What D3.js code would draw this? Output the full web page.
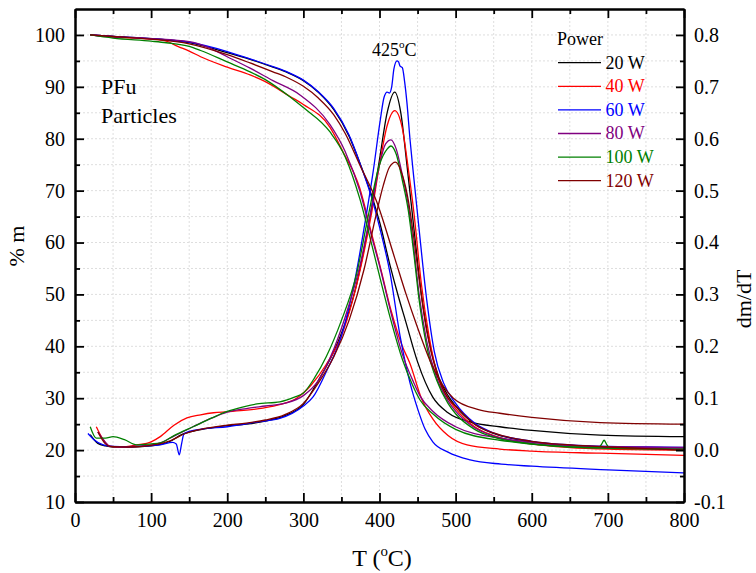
<!DOCTYPE html>
<html><head><meta charset="utf-8">
<script src="https://cdn.jsdelivr.net/npm/d3@7"></script>
<style>body{margin:0;background:#fff}svg{display:block}</style>
</head><body><svg id="c" width="756" height="573"></svg>
<script>
// ---------- DATA ----------
const seriesNames = ["20 W","40 W","60 W","80 W","100 W","120 W"];
const seriesColors = ["#000000","#ff0000","#0000ff","#800080","#008000","#800000"];

const xTicks = [0,100,200,300,400,500,600,700,800];
const yLeftTicks = [10,20,30,40,50,60,70,80,90,100];
const yRightTicks = [-0.1,0,0.1,0.2,0.3,0.4,0.5,0.6,0.7,0.8];

// 20 W
const tga20T = [20,50,100,150,200,230,260,280,300,320,340,360,375,392,400,414,425,434,450,470,490,520,558,600,690,800];
const tga20M = [100,99.7,99.3,98.5,96.6,95.3,93.8,92.7,91.2,88.9,85.6,80.5,75,68,64,55.5,49.5,45,37,30.2,27.2,25.4,24.5,23.8,22.9,22.6];
const dtg20T = [20,30,40,50,75,100,125,140,160,180,200,225,250,275,300,320,340,355,370,380,390,400,410,420,428,436,445,455,465,478,490,500,525,550,600,650,700,750,800];
const dtg20D = [0.030,0.013,0.008,0.006,0.006,0.008,0.017,0.030,0.038,0.043,0.047,0.050,0.056,0.066,0.088,0.135,0.19,0.245,0.32,0.39,0.47,0.56,0.65,0.69,0.65,0.55,0.43,0.30,0.21,0.14,0.105,0.085,0.05,0.032,0.016,0.009,0.005,0.003,0.002];

// 40 W
const tga40T = [20,50,100,120,135,150,165,200,230,250,283,300,335,352,374,390,401,415,430,440,455,470,490,515,558,600,690,800];
const tga40M = [100,99.6,99.2,98.8,97.8,96.9,95.8,93.8,92.3,91,88.1,86.6,82.2,77.5,70.5,61.5,55.3,47,40,36.7,30,26,22.8,21,20.2,19.8,19.4,19.0];
const dtg40T = [28,35,46,60,81,100,112,130,147,165,182,200,225,247,270,291,310,330,350,365,378,390,400,410,420,430,438,445,455,465,477,490,500,525,550,600,650,700,800];
const dtg40D = [0.045,0.025,0.007,0.006,0.010,0.016,0.026,0.048,0.062,0.068,0.072,0.074,0.077,0.081,0.088,0.100,0.125,0.165,0.22,0.29,0.37,0.46,0.55,0.625,0.654,0.62,0.54,0.46,0.32,0.22,0.14,0.10,0.08,0.045,0.028,0.012,0.005,0.002,0.0];

// 60 W
const tga60T = [20,50,100,150,200,230,260,280,300,320,340,360,375,392,400,414,427,440,450,460,470,490,519,560,600,700,800];
const tga60M = [100,99.7,99.3,98.6,96.8,95.4,93.9,92.8,91.3,89.0,85.8,80.7,75,67.5,63,54,42,33,28,24,21.6,19.6,18.1,17.3,16.9,16.2,15.6];
const dtg60T = [17,25,37,50,68,90,112,128,133,137,140,143,150,168,200,243,269,300,313,331,350,368,380,392,401,406,410,413,416,419,423,425,427,430,433,436,440,444,451,462,472,484,500,525,550,600,650,700,750,800];
const dtg60D = [0.032,0.020,0.010,0.007,0.0066,0.008,0.010,0.015,0.012,-0.009,0.012,0.031,0.036,0.041,0.045,0.055,0.061,0.085,0.103,0.154,0.22,0.33,0.43,0.54,0.636,0.68,0.69,0.688,0.70,0.735,0.75,0.748,0.74,0.737,0.71,0.67,0.60,0.54,0.44,0.29,0.19,0.13,0.09,0.052,0.033,0.017,0.01,0.007,0.006,0.005];

// 80 W
const tga80T = [20,50,100,150,175,200,230,260,296,335,355,374,390,401,415,430,445,453,470,500,558,690,800];
const tga80M = [100,99.7,99.3,98.7,97.6,95.8,93.6,91.2,88.4,82.7,77.5,70,61,55,46.5,38.5,33,30.5,27.5,24.5,22.3,20.7,20.5];
const dtg80T = [30,40,46,70,100,112,130,155,180,200,225,250,275,300,320,340,360,375,390,400,408,415,422,430,438,445,452,462,475,490,500,525,550,600,650,700,750,800];
const dtg80D = [0.035,0.015,0.007,0.006,0.010,0.014,0.027,0.045,0.062,0.073,0.080,0.085,0.09,0.105,0.135,0.195,0.28,0.36,0.47,0.55,0.59,0.598,0.58,0.53,0.47,0.39,0.30,0.21,0.14,0.095,0.075,0.043,0.027,0.013,0.008,0.006,0.005,0.004];

// 100 W
const tga100T = [20,50,100,120,150,165,200,230,250,283,300,335,355,374,390,401,415,430,445,453,470,500,558,690,800];
const tga100M = [100,99.4,98.8,98.5,97.8,97.0,94.8,92.9,91.4,88,86,81.3,76.5,68.5,59.5,53,45,37.5,32,29.7,27,24,21.9,20.4,20.2];
const dtg100T = [20,28,40,50,65,81,100,112,130,155,180,199,220,239,269,290,300,315,330,350,370,385,400,410,415,422,430,438,445,452,462,475,490,500,525,550,600,650,688,692,695,698,702,750,800];
const dtg100D = [0.045,0.023,0.023,0.026,0.02,0.010,0.012,0.014,0.028,0.045,0.062,0.074,0.083,0.089,0.093,0.103,0.11,0.14,0.18,0.25,0.34,0.45,0.55,0.58,0.586,0.57,0.52,0.46,0.38,0.29,0.20,0.135,0.09,0.07,0.04,0.025,0.012,0.006,0.005,0.012,0.019,0.012,0.004,0.003,0.0];

// 120 W
const tga120T = [20,50,100,150,200,230,260,280,300,320,340,355,374,396,420,435,449,470,497,530,558,600,690,800];
const tga120M = [100,99.7,99.2,98.3,96.2,94.6,92.9,91.7,90.1,87.8,84.6,81,75,68,57,50,44,36,30,27.8,27.1,26.3,25.3,25.0];
const dtg120T = [30,40,46,70,100,125,145,165,200,225,250,275,300,320,340,360,380,395,405,413,421,430,438,445,452,462,475,490,500,525,550,600,650,700,750,800];
const dtg120D = [0.035,0.012,0.007,0.006,0.009,0.018,0.032,0.040,0.048,0.052,0.058,0.068,0.09,0.13,0.18,0.25,0.35,0.45,0.51,0.545,0.555,0.53,0.48,0.41,0.33,0.23,0.15,0.10,0.085,0.05,0.033,0.017,0.01,0.006,0.003,0.0];

const tgaT = [tga20T,tga40T,tga60T,tga80T,tga100T,tga120T];
const tgaM = [tga20M,tga40M,tga60M,tga80M,tga100M,tga120M];
const dtgT = [dtg20T,dtg40T,dtg60T,dtg80T,dtg100T,dtg120T];
const dtgD = [dtg20D,dtg40D,dtg60D,dtg80D,dtg100D,dtg120D];

// ---------- CHART ----------
const svg = d3.select("#c");
const L = 75, R = 684, T = 9, B = 502;
const FONT = "'Liberation Serif','Times New Roman',serif";
const x = d3.scaleLinear().domain([0,800]).range([L,R]);
const yL = d3.scaleLinear().domain([10,105]).range([B,T]);
const yR = d3.scaleLinear().domain([-0.1,0.85]).range([B,T]);

// grid
const grid = svg.append("g").attr("stroke","#dedede").attr("stroke-width",1).attr("stroke-dasharray","2,2");
d3.range(50,800,50).forEach(v=>{
  grid.append("line").attr("x1",x(v)).attr("x2",x(v)).attr("y1",T).attr("y2",B);
});
d3.range(15,105,5).forEach(v=>{
  grid.append("line").attr("x1",L).attr("x2",R).attr("y1",yL(v)).attr("y2",yL(v));
});

// clip
svg.append("clipPath").attr("id","clip").append("rect").attr("x",L).attr("y",T).attr("width",R-L).attr("height",B-T);
const plot = svg.append("g").attr("clip-path","url(#clip)");

const lineL = d3.line().x(d=>x(d[0])).y(d=>yL(d[1])).curve(d3.curveMonotoneX);
const lineR = d3.line().x(d=>x(d[0])).y(d=>yR(d[1])).curve(d3.curveMonotoneX);

for (let i=0;i<6;i++){
  plot.append("path").attr("d", lineL(d3.zip(tgaT[i],tgaM[i])))
    .attr("fill","none").attr("stroke",seriesColors[i]).attr("stroke-width",1.3);
  plot.append("path").attr("d", lineR(d3.zip(dtgT[i],dtgD[i])))
    .attr("fill","none").attr("stroke",seriesColors[i]).attr("stroke-width",1.3);
}

// axes
function style(g){
  g.select(".domain").attr("stroke","#000").attr("stroke-width",2);
  g.selectAll(".tick line").attr("stroke","#000").attr("stroke-width",1.8);
  g.selectAll("text").attr("font-family",FONT).attr("font-size",20).attr("fill","#000");
}
const minorX = d3.range(50,800,100);
const minorYL = d3.range(15,105,10);
const minorYR = d3.range(-0.05,0.85,0.1);

svg.append("g").attr("transform",`translate(0,${B})`)
  .call(d3.axisBottom(x).tickValues(xTicks).tickSizeInner(-9).tickSizeOuter(0).tickPadding(11).tickFormat(d3.format("d"))).call(style);
svg.append("g").attr("transform",`translate(0,${B})`)
  .call(d3.axisBottom(x).tickValues(minorX).tickSizeInner(-5).tickSizeOuter(0).tickFormat("")).call(style);
svg.append("g").attr("transform",`translate(0,${T})`)
  .call(d3.axisTop(x).tickValues(xTicks).tickSizeInner(-9).tickSizeOuter(0).tickFormat("")).call(style);
svg.append("g").attr("transform",`translate(0,${T})`)
  .call(d3.axisTop(x).tickValues(minorX).tickSizeInner(-5).tickSizeOuter(0).tickFormat("")).call(style);
svg.append("g").attr("transform",`translate(${L},0)`)
  .call(d3.axisLeft(yL).tickValues(yLeftTicks).tickSizeInner(-9).tickSizeOuter(0).tickPadding(10).tickFormat(d3.format("d"))).call(style);
svg.append("g").attr("transform",`translate(${L},0)`)
  .call(d3.axisLeft(yL).tickValues(minorYL).tickSizeInner(-5).tickSizeOuter(0).tickFormat("")).call(style);
svg.append("g").attr("transform",`translate(${R},0)`)
  .call(d3.axisRight(yR).tickValues(yRightTicks).tickSizeInner(-8).tickSizeOuter(0).tickPadding(10).tickFormat(d=>d3.format(".1f")(d).replace("\u2212","-"))).call(style);
svg.append("g").attr("transform",`translate(${R},0)`)
  .call(d3.axisRight(yR).tickValues(minorYR).tickSizeInner(-4).tickSizeOuter(0).tickFormat("")).call(style);

// axis titles
function supText(g, before, after, size){
  const t = g.append("text").attr("font-family",FONT).attr("font-size",size).attr("fill","#000");
  t.append("tspan").text(before);
  t.append("tspan").attr("font-size",size*0.62).attr("dy",-size*0.42).text("o");
  t.append("tspan").attr("dy",size*0.42).text(after);
  return t;
}
supText(svg.append("g").attr("transform","translate(382,566)"),"T (","C)",24).attr("text-anchor","middle");
svg.append("text").attr("transform","translate(24,246) rotate(-90)").attr("text-anchor","middle")
  .attr("font-family",FONT).attr("font-size",22).text("% m");
svg.append("text").attr("transform","translate(751,299) rotate(-90)").attr("text-anchor","middle")
  .attr("font-family",FONT).attr("font-size",22).text("dm/dT");

// annotations
svg.append("text").attr("x",101).attr("y",94).attr("font-family",FONT).attr("font-size",22).text("PFu");
svg.append("text").attr("x",101).attr("y",123).attr("font-family",FONT).attr("font-size",22).text("Particles");
supText(svg.append("g").attr("transform","translate(372,56)"),"425","C",18);

// legend
const lg = svg.append("g");
lg.append("text").attr("x",557).attr("y",45).attr("font-family",FONT).attr("font-size",18).text("Power");
seriesNames.forEach((n,i)=>{
  const yy = 62.7 + i*23.6;
  lg.append("line").attr("x1",558).attr("x2",601).attr("y1",yy).attr("y2",yy).attr("stroke",seriesColors[i]).attr("stroke-width",1.3);
  lg.append("text").attr("x",605.5).attr("y",yy+5.8).attr("font-family",FONT).attr("font-size",18).attr("fill",seriesColors[i]).text(n);
});
</script></body></html>
